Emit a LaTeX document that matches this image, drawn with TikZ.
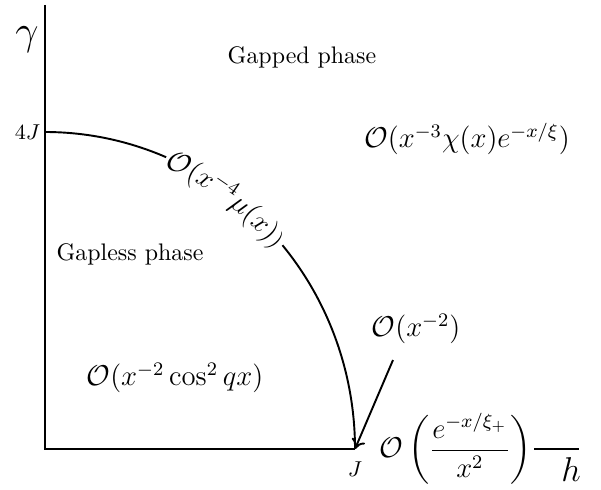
\documentclass[tikz,border=0pt]{standalone}
\usepackage{amsmath}
\usepackage{amssymb}
\usetikzlibrary{arrows.meta,positioning,calc,decorations.text}
\tikzset{
  axis/.style  ={draw=black, line width=.8pt},
  curve/.style ={draw=black, line width=.8pt},
  arr/.style   ={-{To[length=4pt,width=6pt]}, draw=black, line width=.8pt},
  phase/.style ={font=\normalsize, inner sep=1pt},
  order/.style ={font=\large, inner sep=1pt},
}
\newcommand{\ordO}{\mathcal{O}}

\begin{document}
\begin{tikzpicture}[x=0.418pt,y=0.418pt]
  \useasboundingbox (0,0) rectangle (601,489);

  % axes
  \coordinate (orig) at (45,40);
  \coordinate (ytop) at (45,484);
  \coordinate (fourJ) at (45,357);
  \coordinate (Jpt) at (355,40);
  \coordinate (hend) at (579,40);
  \draw[axis] (ytop) -- (orig) -- (Jpt);

  \node[font=\LARGE] (gam) at (27,449) {$\gamma$};
  \node[font=\small,anchor=east,inner sep=1pt] (lab4J) at (43,357) {$4J$};
  \node[font=\small,below=2pt of Jpt] (labJ) {$J$};

  % phase boundary
  \draw[curve] (fourJ) arc[start angle=90, end angle=67, x radius=310, y radius=317];
  \draw[curve] ($(orig)+(40:310 and 317)$) arc[start angle=40, end angle=0, x radius=310, y radius=317];
  \path[decorate, decoration={text along path, text align=center, raise=-4pt,
        text={|\large|{$\ordO$}{$($}{$x^{-4}$}{$\mu$}{$($}{$x$}{$)$}{$)$}}}]
    ($(orig)+(67:310 and 317)$) arc[start angle=67, end angle=40, x radius=310, y radius=317];

  % labels
  \node[phase] (gapped) at (302,432) {Gapped phase};
  \node[phase] (gapless) at (130,235) {Gapless phase};
  \node[order] (ordgap) at (467,350) {$\ordO(x^{-3}\chi(x)e^{-x/\xi})$};
  \node[order] (ordcos) at (175,111) {$\ordO(x^{-2}\cos^2 qx)$};
  \node[order] (ordtwo) at (416,160) {$\ordO(x^{-2})$};
  \coordinate (arrstart) at (393,129);
  \draw[arr] (arrstart) -- (Jpt);

  \node[order,anchor=west] (ordfrac) at (377,40)
    {$\ordO\left(\dfrac{e^{-x/\xi_+}}{x^2}\right)$};
  \draw[axis] (ordfrac.east) -- (hend);
  \node[font=\Large] (hlab) at (571,19) {$h$};
\end{tikzpicture}
\end{document}
